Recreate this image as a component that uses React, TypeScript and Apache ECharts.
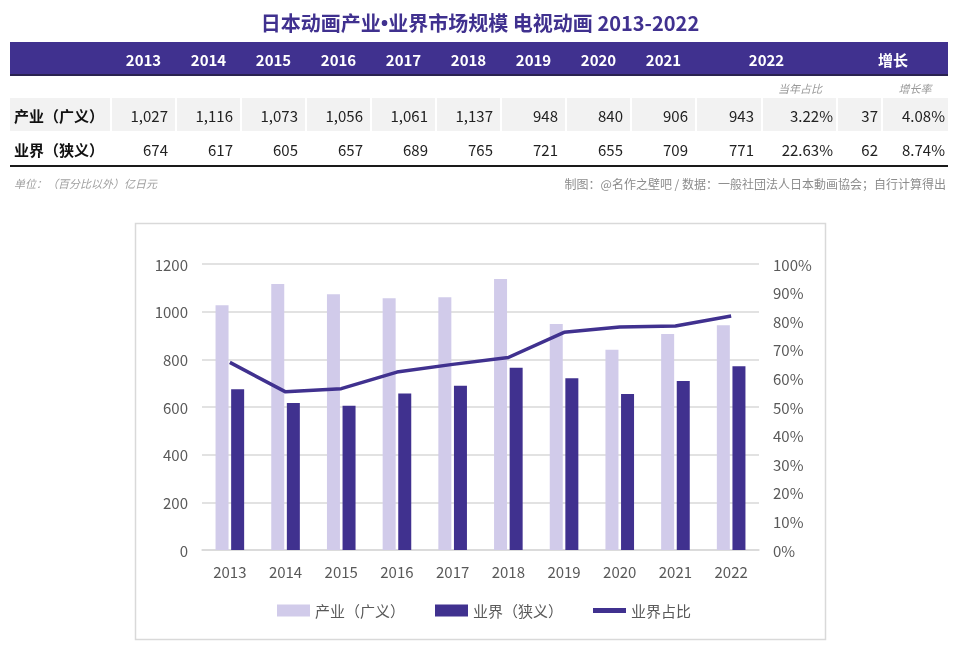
import React, { useEffect, useRef } from "react";
import * as echarts from "echarts";

const years = ["2013", "2014", "2015", "2016", "2017", "2018", "2019", "2020", "2021", "2022"];
const industryValues = [1027, 1116, 1073, 1056, 1061, 1137, 948, 840, 906, 943];
const businessValues = [674, 617, 605, 657, 689, 765, 721, 655, 709, 771];
const shareValues = [65.6, 55.3, 56.4, 62.2, 64.9, 67.3, 76.1, 78.0, 78.3, 81.8];
const rowLabels = ["产业（广义）", "业界（狭义）"];
const share2022 = ["3.22%", "22.63%"];
const growthAbs = ["37", "62"];
const growthRate = ["4.08%", "8.74%"];
const leftTicks = [0, 200, 400, 600, 800, 1000, 1200];

const DARK = "#40318f";
const LIGHT = "#d1cbea";
const FONT = "'Noto Sans CJK SC', 'Noto Sans', sans-serif";

function fmt(n: number) {
  return n.toLocaleString("en-US");
}

export default function App() {
  const ref = useRef<HTMLDivElement>(null);
  useEffect(() => {
    if (!ref.current) return;
    const chart = echarts.init(ref.current, undefined, { renderer: "svg" });

    const yearCells: [number, number][] = [];
    for (let i = 0; i < 10; i++) {
      const x0 = 112 + i * 65;
      yearCells.push([x0, x0 + 63]);
    }
    yearCells[9] = [697, 761];
    const shareCell: [number, number] = [763, 836];
    const absCell: [number, number] = [838, 881];
    const rateCell: [number, number] = [883, 948];
    const labelCell: [number, number] = [10, 110];

    const g: any[] = [];
    g.push({
      type: "text",
      x: 480,
      y: 22,
      style: {
        text: "{a|日本动画产业}{b|•}{a|业界市场规模 电视动画 2013-2022}",
        align: "center",
        verticalAlign: "middle",
        rich: {
          a: { font: `bold 20px ${FONT}`, fill: DARK },
          b: { font: `bold 20px 'Noto Sans', sans-serif`, fill: DARK },
        },
      },
    });
    g.push({ type: "rect", shape: { x: 10, y: 42, width: 938, height: 33 }, style: { fill: DARK } });
    g.push({ type: "rect", shape: { x: 10, y: 74, width: 938, height: 2 }, style: { fill: "#2a2350" } });
    years.forEach((yr, i) => {
      const c = i === 9 ? (697 + 836) / 2 : (yearCells[i][0] + yearCells[i][1]) / 2;
      g.push({
        type: "text",
        x: c,
        y: 59,
        style: { text: yr, font: `bold 15px ${FONT}`, fill: "#ffffff", align: "center", verticalAlign: "middle" },
      });
    });
    g.push({
      type: "text",
      x: 893,
      y: 59,
      style: { text: "增长", font: `bold 15px ${FONT}`, fill: "#ffffff", align: "center", verticalAlign: "middle" },
    });
    g.push({
      type: "text",
      x: 800,
      y: 88,
      style: { text: "当年占比", font: `italic 11px ${FONT}`, fill: "#9a9a9a", align: "center", verticalAlign: "middle" },
    });
    g.push({
      type: "text",
      x: 915,
      y: 88,
      style: { text: "增长率", font: `italic 11px ${FONT}`, fill: "#9a9a9a", align: "center", verticalAlign: "middle" },
    });

    const rowY = [[98, 131], [132, 164]];
    const rows = [industryValues, businessValues];
    rows.forEach((vals, r) => {
      const [y0, y1] = rowY[r];
      const cy = (y0 + y1) / 2 + 1;
      const allCells = [labelCell, ...yearCells, shareCell, absCell, rateCell];
      if (r === 0) {
        allCells.forEach(([a, b]) => {
          g.push({ type: "rect", shape: { x: a, y: y0, width: b - a, height: y1 - y0 }, style: { fill: "#f2f2f2" } });
        });
      }
      g.push({
        type: "text",
        x: 14,
        y: cy,
        style: { text: rowLabels[r], font: `bold 15px ${FONT}`, fill: "#111111", align: "left", verticalAlign: "middle" },
      });
      vals.forEach((v, i) => {
        g.push({
          type: "text",
          x: yearCells[i][1] - 7,
          y: cy,
          style: { text: fmt(v), font: `15px ${FONT}`, fill: "#222222", align: "right", verticalAlign: "middle" },
        });
      });
      const extras: [string, [number, number]][] = [
        [share2022[r], shareCell],
        [growthAbs[r], absCell],
        [growthRate[r], rateCell],
      ];
      extras.forEach(([t, c]) => {
        g.push({
          type: "text",
          x: c[1] - 3,
          y: cy,
          style: { text: t, font: `15px ${FONT}`, fill: "#222222", align: "right", verticalAlign: "middle" },
        });
      });
    });
    g.push({ type: "rect", shape: { x: 10, y: 165, width: 938, height: 2 }, style: { fill: "#1a1a1a" } });
    g.push({
      type: "text",
      x: 14,
      y: 183,
      style: { text: "单位：（百分比以外）亿日元", font: `italic 11px ${FONT}`, fill: "#a0a0a0", align: "left", verticalAlign: "middle" },
    });
    g.push({
      type: "text",
      x: 946,
      y: 183,
      style: {
        text: "制图：@名作之壁吧 / 数据：一般社団法人日本動画協会；自行计算得出",
        font: `12px ${FONT}`,
        fill: "#8c8c8c",
        align: "right",
        verticalAlign: "middle",
      },
    });
    g.push({
      type: "rect",
      z: -10,
      shape: { x: 135.5, y: 223.5, width: 690, height: 416 },
      style: { fill: "none", stroke: "#d9d9d9", lineWidth: 1.5 },
    });

    chart.setOption({
      animation: false,
      textStyle: { fontFamily: FONT },
      graphic: g,
      grid: { left: 202, right: 201, top: 264, bottom: 111, containLabel: false },
      legend: {
        top: 598,
        left: 272,
        itemWidth: 33,
        itemHeight: 12,
        itemGap: 30,
        textStyle: { fontSize: 15, color: "#595959", fontFamily: FONT },
        data: [
          { name: "产业（广义）", icon: "rect" },
          { name: "业界（狭义）", icon: "rect" },
          { name: "业界占比", icon: "path://M0,0 L33,0 L33,5 L0,5 Z" },
        ],
      },
      xAxis: {
        type: "category",
        data: years,
        axisLine: { lineStyle: { color: "#d9d9d9", width: 1.5 } },
        axisTick: { show: false },
        axisLabel: { fontSize: 15, color: "#595959", margin: 14 },
      },
      yAxis: [
        {
          type: "value",
          min: leftTicks[0],
          max: leftTicks[leftTicks.length - 1],
          interval: 200,
          axisLine: { show: false },
          axisTick: { show: false },
          splitLine: { lineStyle: { color: "#d9d9d9", width: 1.5 } },
          axisLabel: { fontSize: 15, color: "#595959", margin: 14, formatter: (v: number) => String(v) },
        },
        {
          type: "value",
          min: 0,
          max: 100,
          interval: 10,
          axisLine: { show: false },
          axisTick: { show: false },
          splitLine: { show: false },
          axisLabel: { fontSize: 15, color: "#595959", margin: 14, formatter: "{value}%" },
        },
      ],
      series: [
        {
          name: "产业（广义）",
          type: "bar",
          data: industryValues,
          barWidth: 13,
          barGap: "20%",
          itemStyle: { color: LIGHT },
        },
        {
          name: "业界（狭义）",
          type: "bar",
          data: businessValues,
          barWidth: 13,
          barGap: "20%",
          itemStyle: { color: DARK },
        },
        {
          name: "业界占比",
          type: "line",
          yAxisIndex: 1,
          data: shareValues,
          symbol: "none",
          lineStyle: { color: DARK, width: 3.5 },
          itemStyle: { color: DARK },
        },
      ],
    });
    return () => chart.dispose();
  }, []);
  return <div ref={ref} style={{ position: "fixed", left: 0, top: 0, width: 960, height: 661 }} />;
}
